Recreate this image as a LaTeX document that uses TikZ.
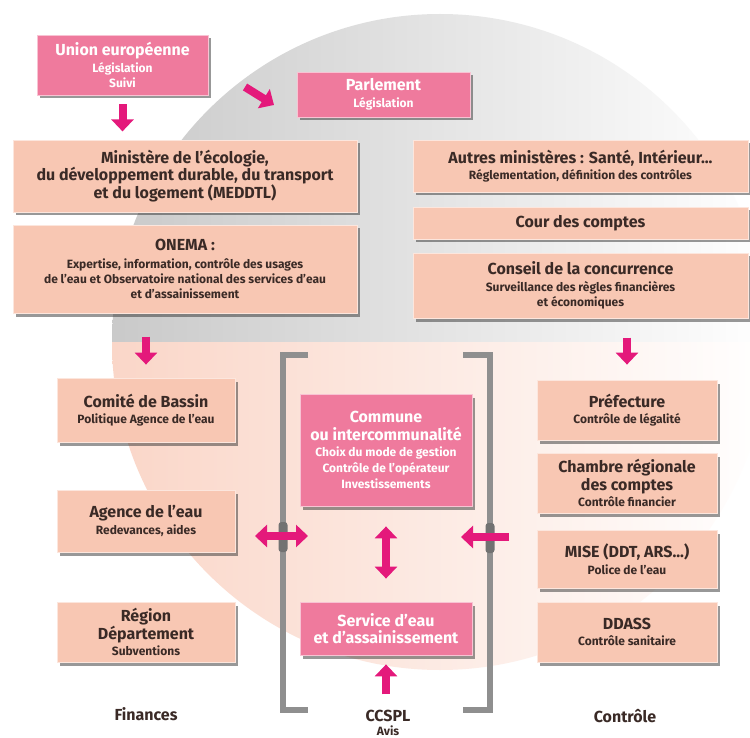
\documentclass[tikz,border=0pt]{standalone}
\usepackage{fontspec}
\setmainfont{Fira Sans}
\usetikzlibrary{arrows.meta,shadows}
\definecolor{peach}{HTML}{F8C7B3}
\definecolor{hot}{HTML}{EF7A9D}
\definecolor{arrc}{HTML}{E4197B}
\definecolor{txt}{HTML}{3A2A26}
\definecolor{brk}{HTML}{8F8F8F}
\definecolor{pinkbg}{HTML}{FAD6C8}
\newcommand\fbig{\fontsize{16}{17.5}\selectfont}
\newcommand\fsml{\fontsize{12}{15}\selectfont}
\begin{document}
\begin{tikzpicture}[x=1pt,y=-1pt,
  basebox/.style={rectangle, inner sep=0pt, align=center, font=\bfseries\fbig,
    drop shadow={shadow xshift=2.5pt, shadow yshift=-3.5pt, opacity=0.5, fill=black!80}},
  pbox/.style={basebox, fill=peach, draw=peach!45!white, line width=0.8pt, text=txt},
  hbox/.style={basebox, fill=hot, draw=hot!45!white, line width=0.8pt, text=white},
  arr/.style={draw=arrc, line width=8pt, -{Triangle[width=22pt,length=12pt]}},
  darr/.style={draw=arrc, line width=8pt, {Triangle[width=22pt,length=12pt]}-{Triangle[width=22pt,length=12pt]}},
  brk/.style={draw=brk, line width=5.5pt, line join=miter},
  lab/.style={font=\bfseries\fbig, text=txt, inner sep=0pt}
]
\useasboundingbox (0,0) rectangle (750,738);
\clip (0,0) rectangle (750,738);
\fill[white] (0,0) rectangle (750,738);
% background circle
\begin{scope}
  \clip (0,0) rectangle (750,342);
  \shade[left color=gray!42, right color=white] (440,342) circle (328pt);
\end{scope}
\begin{scope}
  \clip (0,342) rectangle (750,738);
  \shade[left color=pinkbg, right color=white] (440,342) circle (328pt);
\end{scope}
% brackets
\draw[brk] (308,355) -- (283,355) -- (283,710) -- (308,710);
\draw[brk] (463,355) -- (490,355) -- (490,710) -- (463,710);
\fill[brk!80!black, rounded corners=3pt] (278.5,522) rectangle (287.5,552);
\fill[brk!80!black, rounded corners=3pt] (485.5,523) rectangle (494.5,553);
% boxes
\node[hbox, minimum width=171pt, minimum height=60pt] (ue) at (122.5,65)
  {Union européenne\\[-1pt]\fsml Législation\\[-2.5pt]\fsml Suivi};
\node[hbox, minimum width=173pt, minimum height=45pt] (parl) at (383.5,94.5)
  {Parlement\\[-1pt]\fsml Législation};
\node[pbox, minimum width=344pt, minimum height=72pt] (min) at (185,176)
  {Ministère de l'écologie,\\du développement durable, du transport\\et du logement (MEDDTL)};
\node[pbox, minimum width=344pt, minimum height=88pt] (onema) at (185,269)
  {ONEMA :\\[0pt]\fsml Expertise, information, contrôle des usages\\[-2.5pt]\fsml de l'eau et Observatoire national des services d'eau\\[-2.5pt]\fsml et d'assainissement};
\node[pbox, minimum width=335pt, minimum height=52pt] (autres) at (580.5,166)
  {Autres ministères : Santé, Intérieur...\\[-1pt]\fsml Réglementation, définition des contrôles};
\node[pbox, minimum width=335pt, minimum height=32pt] (cour) at (580.5,223)
  {Cour des comptes};
\node[pbox, minimum width=335pt, minimum height=65pt] (conseil) at (580.5,285.5)
  {Conseil de la concurrence\\[-1pt]\fsml Surveillance des règles financières\\[-2.5pt]\fsml et économiques};
\node[pbox, minimum width=178pt, minimum height=64pt] (comite) at (146,410)
  {Comité de Bassin\\[-1pt]\fsml Politique Agence de l'eau};
\node[pbox, minimum width=178pt, minimum height=62pt] (agence) at (146,521)
  {Agence de l'eau\\[-1pt]\fsml Redevances, aides};
\node[pbox, minimum width=178pt, minimum height=60pt] (region) at (146,632)
  {Région\\Département\\[-1pt]\fsml Subventions};
\node[hbox, minimum width=172pt, minimum height=112pt] (commune) at (386,450)
  {Commune\\ou intercommunalité\\[-1pt]\fsml Choix du mode de gestion\\[-1.5pt]\fsml Contrôle de l'opérateur\\[-2pt]\fsml Investissements};
\node[hbox, minimum width=172pt, minimum height=53pt] (service) at (386,628.5)
  {Service d'eau\\et d'assainissement};
\node[pbox, minimum width=180pt, minimum height=60pt] (pref) at (627,410)
  {Préfecture\\[-1pt]\fsml Contrôle de légalité};
\node[pbox, minimum width=180pt, minimum height=60pt] (chambre) at (627,483)
  {Chambre régionale\\des comptes\\[-1pt]\fsml Contrôle financier};
\node[pbox, minimum width=180pt, minimum height=58pt] (mise) at (627,559)
  {MISE (DDT, ARS...)\\[-1pt]\fsml Police de l'eau};
\node[pbox, minimum width=180pt, minimum height=60pt] (ddass) at (627,632)
  {DDASS\\[-1pt]\fsml Contrôle sanitaire};
% labels
\node[lab] (fin) at (146,714) {Finances};
\node[lab] (ccspl) at (388,716) {CCSPL};
\node[lab, font=\bfseries\fsml] (avis) at (388,731) {Avis};
\node[lab] (ctrl) at (625,716) {Contrôle};
% arrows
\coordinate (d1s) at (245,87);
\coordinate (d1e) at (274,105);
\coordinate (h1s) at (255,536);
\coordinate (h1e) at (308,536);
\coordinate (r1s) at (509,537);
\coordinate (r1e) at (461,537);
\draw[arr] ([yshift=-9pt]ue.south) -- ++(0,27);
\draw[arr] (d1s) -- (d1e);
\draw[arr] ([yshift=41pt]comite.north) -- ([yshift=13pt]comite.north);
\draw[arr] ([yshift=42pt]pref.north) -- ([yshift=15pt]pref.north);
\draw[darr] (h1s) -- (h1e);
\draw[arr] (r1s) -- (r1e);
\draw[darr] ([yshift=-20pt]commune.south) -- ([yshift=23pt]service.north);
\draw[arr] ([yshift=-39pt]service.south) -- ([yshift=-9pt]service.south);
\end{tikzpicture}
\end{document}
